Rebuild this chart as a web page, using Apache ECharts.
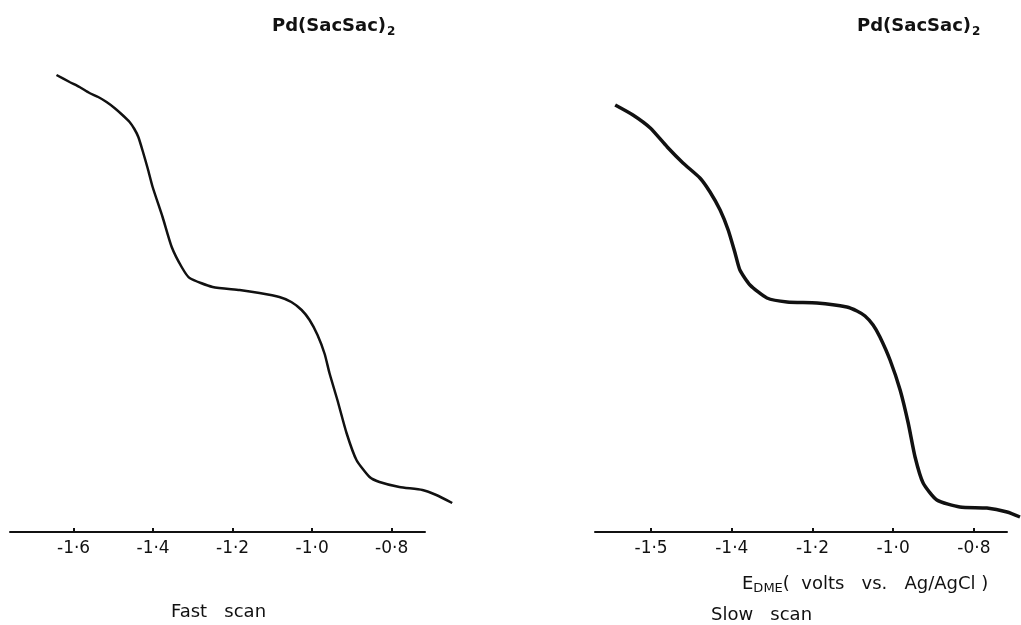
<!DOCTYPE html>
<html>
<head>
<meta charset="utf-8">
<script src="https://cdn.jsdelivr.net/npm/echarts@6/dist/echarts.min.js"></script>
<style>html,body{margin:0;padding:0;background:#fff}#c{width:1021px;height:625px}</style>
</head>
<body>
<div id="c"></div>
<script>
// Tick values and labels
const tickValues = [-1.6, -1.4, -1.2, -1.0, -0.8];
const fastTickLabels = ['-1·6', '-1·4', '-1·2', '-1·0', '-0·8'];
const slowTickLabels = ['-1·5', '-1·4', '-1·2', '-1·0', '-0·8'];

// Fast scan: potential (V) and current (arbitrary units)
const fastE = [-1.643, -1.610, -1.585, -1.560, -1.538, -1.517, -1.497, -1.477, -1.459, -1.447, -1.437, -1.426, -1.413, -1.401, -1.376, -1.353, -1.328, -1.308, -1.250, -1.182, -1.132, -1.082, -1.052, -1.026, -1.006, -0.986, -0.968, -0.956, -0.936, -0.913, -0.888, -0.855, -0.830, -0.780, -0.722, -0.687, -0.647];
const fastI = [457, 450, 445, 439, 435, 430, 424, 417, 410, 403, 395, 381, 363, 345, 315, 285, 265, 254, 245, 242, 239, 235, 230, 222, 212, 197, 178, 159, 132, 99, 72, 55, 50, 45, 42, 37, 29];

// Slow scan
const slowE = [-1.689, -1.645, -1.602, -1.560, -1.521, -1.479, -1.454, -1.429, -1.409, -1.392, -1.380, -1.355, -1.313, -1.263, -1.189, -1.115, -1.090, -1.070, -1.050, -1.033, -1.008, -0.983, -0.963, -0.946, -0.926, -0.892, -0.835, -0.768, -0.718, -0.686];
const slowI = [427, 417, 404, 385, 369, 354, 340, 322, 302, 279, 262, 247, 234, 230, 229, 225, 221, 216, 207, 195, 172, 142, 109, 75, 49, 32, 25, 24, 20, 15];

const FONT = 'DejaVu Sans';
const zip = (a, b) => a.map((v, i) => [v, b[i]]);

function visibleXAxis(idx, min, max, labels) {
  return {
    type: 'value', gridIndex: idx, min: min, max: max,
    axisLine: { show: true, onZero: false, lineStyle: { color: '#111', width: 2 } },
    axisTick: { show: true, inside: true, length: 4, customValues: tickValues, lineStyle: { color: '#111', width: 2 } },
    axisLabel: {
      show: true, customValues: tickValues, margin: 8,
      color: '#111', fontFamily: FONT, fontSize: 17,
      formatter: function (v) {
        const i = tickValues.findIndex(t => Math.abs(t - v) < 1e-6);
        return i >= 0 ? labels[i] : '';
      }
    },
    splitLine: { show: false }
  };
}
function hiddenXAxis(idx, min, max) {
  return { type: 'value', gridIndex: idx, min: min, max: max, show: false, splitLine: { show: false } };
}
function yAxisFor(idx) {
  return { type: 'value', gridIndex: idx, min: 0, max: 480, show: false, splitLine: { show: false } };
}

const titleRich = {
  a: { fontFamily: FONT, fontSize: 18, fontWeight: 'bold', color: '#111' },
  s: { fontFamily: FONT, fontSize: 12, fontWeight: 'bold', color: '#111', padding: [11, 0, 0, 1] }
};
const plainStyle = { fontFamily: FONT, fontSize: 18, fontWeight: 'normal', color: '#111' };

const chart = echarts.init(document.getElementById('c'));
chart.setOption({
  animation: false,
  backgroundColor: '#fff',
  title: [
    { text: '{a|Pd(SacSac)}{s|2}', left: 267, top: 10, textStyle: { rich: titleRich } },
    { text: '{a|Pd(SacSac)}{s|2}', left: 852, top: 10, textStyle: { rich: titleRich } },
    { text: 'Fast   scan', left: 166, top: 598, textStyle: plainStyle },
    { text: 'Slow   scan', left: 706, top: 601, textStyle: plainStyle },
    { text: '{a|E}{s|DME}{a|(  volts   vs.   Ag/AgCl )}', left: 737, top: 568,
      textStyle: { rich: {
        a: { fontFamily: FONT, fontSize: 18, fontWeight: 'normal', color: '#111' },
        s: { fontFamily: FONT, fontSize: 13, fontWeight: 'normal', color: '#111', padding: [9, 0, 0, 0] }
      } } }
  ],
  grid: [
    // data grids (wider, so the trace runs past the end of the drawn axis)
    { left: 10, right: 566, top: 52, bottom: 93 },
    { left: 595, right: 1, top: 52, bottom: 93 },
    // axis grids
    { left: 10, right: 596, top: 52, bottom: 93 },
    { left: 595, right: 14, top: 52, bottom: 93 }
  ],
  xAxis: [
    hiddenXAxis(0, -1.76, -0.64),
    hiddenXAxis(1, -1.739, -0.686),
    visibleXAxis(2, -1.76, -0.716, fastTickLabels),
    visibleXAxis(3, -1.739, -0.718, slowTickLabels)
  ],
  yAxis: [yAxisFor(0), yAxisFor(1), yAxisFor(2), yAxisFor(3)],
  series: [
    { type: 'line', xAxisIndex: 0, yAxisIndex: 0, data: zip(fastE, fastI), showSymbol: false,
      smooth: 0.2, lineStyle: { color: '#111', width: 2.5 } },
    { type: 'line', xAxisIndex: 1, yAxisIndex: 1, data: zip(slowE, slowI), showSymbol: false,
      smooth: 0.2, lineStyle: { color: '#111', width: 3.5 } }
  ]
});
</script>
</body>
</html>
